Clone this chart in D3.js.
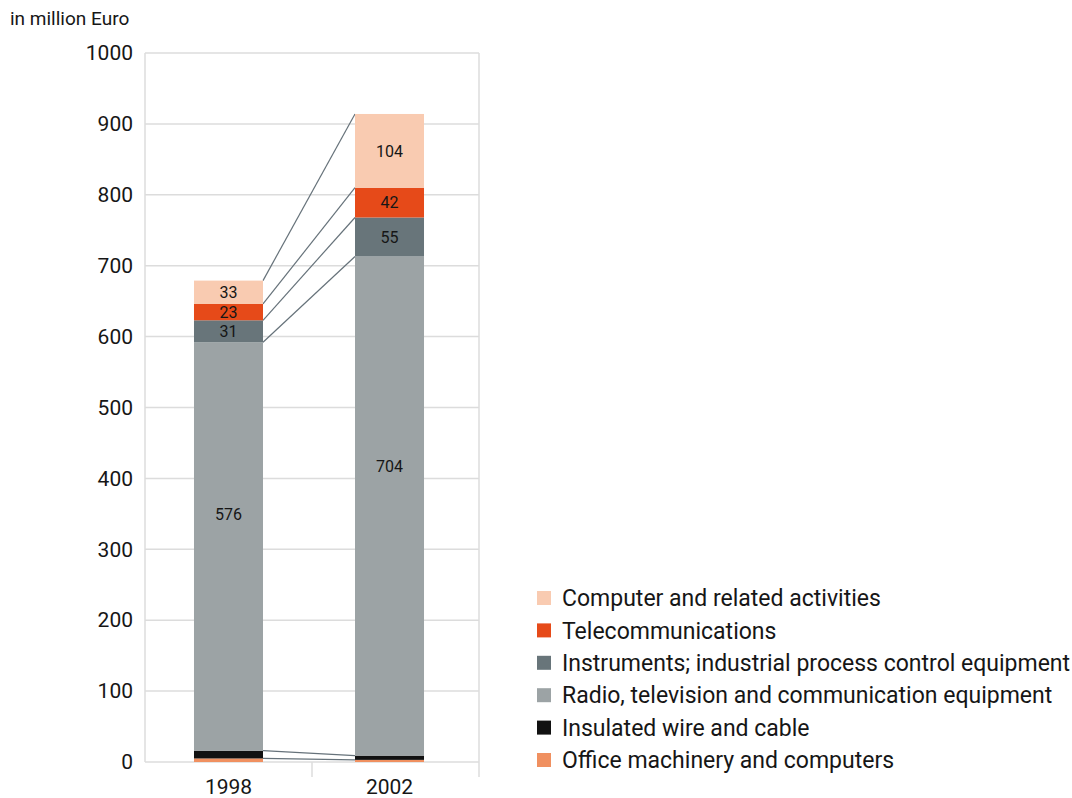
<!DOCTYPE html>
<html lang="en">
	<head>
		<meta charset="utf-8">
		<title>Stacked bars 1998 / 2002</title>
		<script type="text/javascript" src="https://cdn.jsdelivr.net/npm/d3@7"></script>
		<style type="text/css">
			body { margin: 0; background: #fff; }
			text { font-family: Roboto, "DejaVu Sans", sans-serif; fill: #161616; }
		</style>
	</head>
	<body>
		<script type="text/javascript">

			//Width and height
			var w = 1072;
			var h = 798;

			//Data (bottom to top of the stack)
			var years = ["1998", "2002"];
			var seriesNames = [
				"Office machinery and computers",
				"Insulated wire and cable",
				"Radio, television and communication equipment",
				"Instruments; industrial process control equipment",
				"Telecommunications",
				"Computer and related activities"
			];
			var office = [5, 3];
			var insulated = [11, 6];
			var radio = [576, 704];
			var instruments = [31, 55];
			var telecom = [23, 42];
			var computer = [33, 104];
			var colors = ["#f09060", "#111111", "#9ca3a5", "#68757a", "#e64a19", "#f9cbb1"];
			var showLabel = [false, false, true, true, true, true];
			var yTicks = [0, 100, 200, 300, 400, 500, 600, 700, 800, 900, 1000];

			var seriesValues = [office, insulated, radio, instruments, telecom, computer];

			//table for d3.stack
			var table = years.map(function(y, i) {
				var row = { year: y };
				seriesNames.forEach(function(s, j) { row[s] = seriesValues[j][i]; });
				return row;
			});
			var stacked = d3.stack().keys(seriesNames)(table);

			//Scales
			var plotLeft = 145, plotRight = 479;
			var xScale = d3.scaleBand()
							.domain(years)
							.range([plotLeft, 473])
							.paddingInner(0.5714)
							.paddingOuter(0.3043);

			var yScale = d3.scaleLinear()
							.domain([0, 1000])
							.range([762, 53]);

			//Create SVG element
			var svg = d3.select("body")
						.append("svg")
						.attr("width", w)
						.attr("height", h);

			//Unit label
			svg.append("text")
				.attr("x", 10)
				.attr("y", 25)
				.attr("font-size", "19px")
				.text("in million Euro");

			//Grid lines
			svg.append("g")
				.selectAll("line")
				.data(yTicks)
				.enter()
				.append("line")
				.attr("x1", plotLeft)
				.attr("x2", plotRight)
				.attr("y1", function(d) { return yScale(d); })
				.attr("y2", function(d) { return yScale(d); })
				.attr("stroke", "#dcdcdc")
				.attr("stroke-width", 1.5);

			//Frame sides
			svg.append("line")
				.attr("x1", plotLeft).attr("x2", plotLeft)
				.attr("y1", yScale(1000)).attr("y2", yScale(0))
				.attr("stroke", "#dcdcdc").attr("stroke-width", 1.5);
			svg.append("line")
				.attr("x1", plotRight).attr("x2", plotRight)
				.attr("y1", yScale(1000)).attr("y2", yScale(0) + 15)
				.attr("stroke", "#dcdcdc").attr("stroke-width", 1.5);
			//Category divider below axis
			svg.append("line")
				.attr("x1", (plotLeft + plotRight) / 2).attr("x2", (plotLeft + plotRight) / 2)
				.attr("y1", yScale(0)).attr("y2", yScale(0) + 15)
				.attr("stroke", "#dcdcdc").attr("stroke-width", 1.5);

			//Y axis labels
			var yAxis = d3.axisLeft(yScale)
							.tickValues(yTicks)
							.tickFormat(d3.format("d"))
							.tickSize(0)
							.tickPadding(12);
			var yg = svg.append("g")
				.attr("transform", "translate(" + plotLeft + ",0)")
				.call(yAxis);
			yg.select(".domain").remove();
			yg.selectAll("text")
				.attr("font-size", "21px")
				.attr("font-family", "Roboto, sans-serif")
				.attr("fill", "#161616");

			//X axis labels
			var xAxis = d3.axisBottom(xScale).tickSize(0).tickPadding(17);
			var xg = svg.append("g")
				.attr("transform", "translate(0," + yScale(0) + ")")
				.call(xAxis);
			xg.select(".domain").remove();
			xg.selectAll("text")
				.attr("font-size", "21px")
				.attr("font-family", "Roboto, sans-serif")
				.attr("fill", "#161616");

			//Connector lines between the bars
			var x0 = xScale(years[0]) + xScale.bandwidth();
			var x1 = xScale(years[1]);
			svg.append("g")
				.selectAll("line")
				.data(stacked)
				.enter()
				.append("line")
				.attr("x1", x0)
				.attr("x2", x1)
				.attr("y1", function(d) { return yScale(d[0][1]); })
				.attr("y2", function(d) { return yScale(d[1][1]); })
				.attr("stroke", "#66727a")
				.attr("stroke-width", 1.2);

			//Create bars
			var groups = svg.append("g")
				.selectAll("g")
				.data(stacked)
				.enter()
				.append("g")
				.attr("fill", function(d, i) { return colors[i]; });

			groups.selectAll("rect")
				.data(function(d) { return d; })
				.enter()
				.append("rect")
				.attr("x", function(d) { return xScale(d.data.year); })
				.attr("y", function(d) { return yScale(d[1]); })
				.attr("width", xScale.bandwidth())
				.attr("height", function(d) { return yScale(d[0]) - yScale(d[1]); });

			//Value labels (tall segments get their label a bit above the middle)
			groups.filter(function(d, i) { return showLabel[i]; })
				.selectAll("text")
				.data(function(d) { return d.map(function(p) { return { p: p, key: d.key }; }); })
				.enter()
				.append("text")
				.attr("x", function(d) { return xScale(d.p.data.year) + xScale.bandwidth() / 2; })
				.attr("y", function(d) {
					var top = yScale(d.p[1]), bottom = yScale(d.p[0]);
					var f = (bottom - top) > 200 ? 0.42 : 0.5;
					return top + (bottom - top) * f;
				})
				.attr("dy", "0.36em")
				.attr("text-anchor", "middle")
				.attr("font-size", "16px")
				.style("fill", "#161616")
				.text(function(d) { return d.p.data[d.key]; });

			//Legend (top entry first)
			var legendOrder = seriesNames.slice().reverse();
			var legend = svg.append("g")
				.selectAll("g")
				.data(legendOrder)
				.enter()
				.append("g")
				.attr("transform", function(d, i) { return "translate(537," + (598 + i * 32.4) + ")"; });

			legend.append("rect")
				.attr("x", 0)
				.attr("y", -7)
				.attr("width", 14)
				.attr("height", 14)
				.attr("fill", function(d) { return colors[seriesNames.indexOf(d)]; });

			legend.append("text")
				.attr("x", 25)
				.attr("y", 0)
				.attr("dy", "0.36em")
				.attr("font-size", "23px")
				.text(function(d) { return d; });

		</script>
	</body>
</html>
